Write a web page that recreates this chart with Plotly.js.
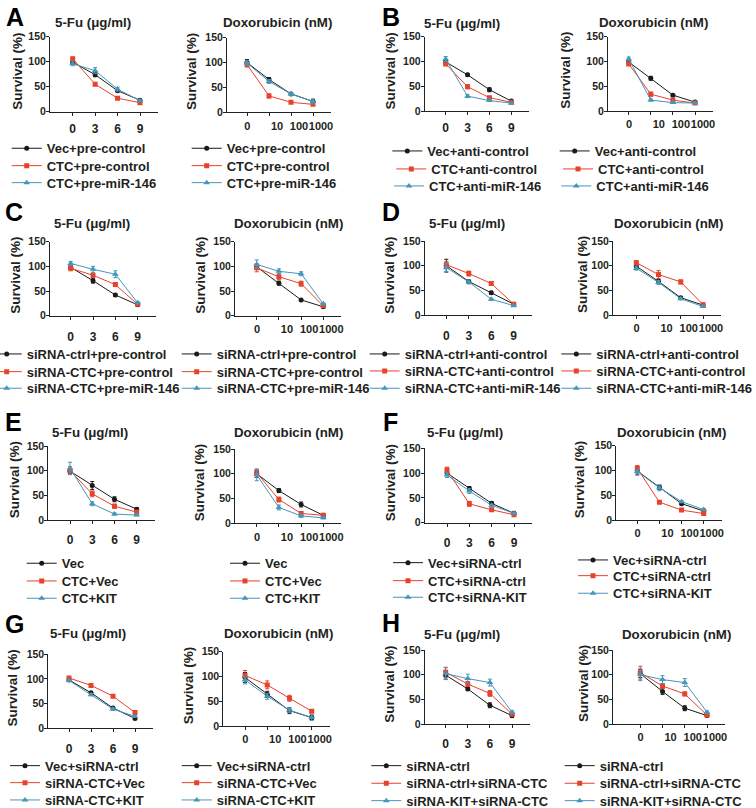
<!DOCTYPE html>
<html><head><meta charset="utf-8">
<script src="https://cdn.plot.ly/plotly-3.0.1.min.js"></script>
<style>html,body{margin:0;padding:0;background:#fff}#chart{width:756px;height:808px}</style>
</head><body><div id="chart"></div>
<script>
// ---------- data ----------
const fuDoses = ['0', '3', '6', '9'];
const doxDoses = ['0', '10', '100', '1000'];
const panelLetters = ['A', 'B', 'C', 'D', 'E', 'F', 'G', 'H'];
const drugTitles = ['5-Fu (μg/ml)', 'Doxorubicin (nM)'];
const yAxisTitle = 'Survival (%)';

const groupsA = ['Vec+pre-control', 'CTC+pre-control', 'CTC+pre-miR-146'];
const groupsB = ['Vec+anti-control', 'CTC+anti-control', 'CTC+anti-miR-146'];
const groupsC = ['siRNA-ctrl+pre-control', 'siRNA-CTC+pre-control', 'siRNA-CTC+pre-miR-146'];
const groupsD = ['siRNA-ctrl+anti-control', 'siRNA-CTC+anti-control', 'siRNA-CTC+anti-miR-146'];
const groupsE = ['Vec', 'CTC+Vec', 'CTC+KIT'];
const groupsF = ['Vec+siRNA-ctrl', 'CTC+siRNA-ctrl', 'CTC+siRNA-KIT'];
const groupsG = ['Vec+siRNA-ctrl', 'siRNA-CTC+Vec', 'siRNA-CTC+KIT'];
const groupsH = ['siRNA-ctrl', 'siRNA-ctrl+siRNA-CTC', 'siRNA-KIT+siRNA-CTC'];

const A_fu_mean = [[99, 74, 42, 23], [106, 55, 27, 18], [96, 82, 45, 22]];
const A_fu_sd = [[4, 4, 2, 2], [3, 3, 2, 1.5], [4, 6, 4, 2]];
const A_dox_mean = [[100, 66, 37, 22], [96, 33, 20, 16], [99, 62, 37, 22]];
const A_dox_sd = [[6, 4, 3, 2], [5, 4, 2, 1.5], [5, 4, 3, 5]];

const B_fu_mean = [[99, 73, 43, 20], [95, 49, 27, 17.5], [105, 30, 21, 16]];
const B_fu_sd = [[4, 3, 4, 2], [3, 4, 2, 2], [5, 3, 1.5, 1.5]];
const B_dox_mean = [[99, 66, 32, 18], [95, 34, 22, 16], [105, 22, 17, 16]];
const B_dox_sd = [[4, 4, 2, 2], [3, 4, 2, 1.5], [4, 2, 1.5, 1.5]];

const C_fu_mean = [[98, 71, 42, 22], [96, 82, 63, 23], [106, 94, 84, 26]];
const C_fu_sd = [[4, 5, 3, 2], [5, 4, 4, 2], [4, 6, 7, 2]];
const C_dox_mean = [[99, 66, 32, 18], [97, 79, 65, 20], [104, 90, 85, 24]];
const C_dox_sd = [[5, 4, 1.5, 2], [8, 6, 5, 2], [9, 5, 4, 2]];

const D_fu_mean = [[100, 68, 45, 22], [102, 84, 64, 22], [96, 67, 32, 19]];
const D_fu_sd = [[13, 3, 3, 2], [6, 5, 4, 2], [8, 4, 2, 1.5]];
const D_dox_mean = [[99, 68, 35, 20], [106, 82, 67, 21], [95, 66, 33, 17]];
const D_dox_sd = [[6, 4, 2, 2], [4, 8, 4, 2], [4, 4, 2, 1.5]];

const E_fu_mean = [[99, 70, 42, 22], [100, 53, 28, 16], [105, 33, 12, 10]];
const E_fu_sd = [[5, 8, 5, 3], [8, 6, 4, 3], [12, 4, 2, 1.5]];
const E_dox_mean = [[100, 66, 38, 16], [102, 48, 20, 16], [98, 32, 15, 11]];
const E_dox_sd = [[7, 4, 5, 2], [6, 5, 3, 2], [12, 5, 3, 2]];

const F_fu_mean = [[100, 69, 39, 19], [106, 38, 26, 16], [96, 64, 35, 19]];
const F_fu_sd = [[5, 4, 3, 1.5], [6, 5, 3, 1.5], [5, 5, 2, 1.5]];
const F_dox_mean = [[99, 66, 33, 18], [104, 36, 20, 13], [98, 65, 37, 21]];
const F_dox_sd = [[8, 4, 2, 2], [6, 3, 2, 2], [5, 6, 2, 2]];

const G_fu_mean = [[98, 72, 41, 20], [102, 87, 65, 32], [97, 68, 39, 24]];
const G_fu_sd = [[2, 2, 2, 1.5], [2, 1.5, 1.5, 2], [2, 2, 2, 1.5]];
const G_dox_mean = [[98, 64, 31, 17], [102, 83, 56, 30], [93, 60, 32, 17]];
const G_dox_sd = [[10, 6, 6, 4], [10, 8, 6, 3], [8, 6, 5, 6]];

const H_fu_mean = [[99, 71, 38, 17], [105, 81, 62, 20], [102, 92, 84, 24]];
const H_fu_sd = [[8, 3, 5, 4], [10, 5, 6, 2], [12, 9, 7, 3]];
const H_dox_mean = [[102, 66, 32, 17], [104, 77, 61, 18], [100, 90, 84, 24]];
const H_dox_sd = [[8, 6, 5, 2], [13, 5, 4, 2], [12, 8, 8, 2]];

// ---------- assembly ----------
const panelGroups = [groupsA, groupsB, groupsC, groupsD, groupsE, groupsF, groupsG, groupsH];
const panelMeans = [
  [A_fu_mean, A_dox_mean], [B_fu_mean, B_dox_mean], [C_fu_mean, C_dox_mean], [D_fu_mean, D_dox_mean],
  [E_fu_mean, E_dox_mean], [F_fu_mean, F_dox_mean], [G_fu_mean, G_dox_mean], [H_fu_mean, H_dox_mean]];
const panelSds = [
  [A_fu_sd, A_dox_sd], [B_fu_sd, B_dox_sd], [C_fu_sd, C_dox_sd], [D_fu_sd, D_dox_sd],
  [E_fu_sd, E_dox_sd], [F_fu_sd, F_dox_sd], [G_fu_sd, G_dox_sd], [H_fu_sd, H_dox_sd]];

// ---------- layout geometry (pixels) ----------
const W = 756, H = 808;
// [axisX, firstPoint, lastPoint, yTop(150), yBot(0), titleX, titleY, yTitleGap, xLabelGap]
const subGeom = [
  [50, 72.7, 140, 36.7, 111.7, 93, 22, 32.5, 15],
  [227, 247, 313, 37.7, 112.3, 277, 22, 35, 15],
  [424.7, 445.7, 511.3, 36.7, 111, 462, 23, 34, 15],
  [608, 628.7, 695, 36.7, 111, 653, 22, 42, 15],
  [50, 70.7, 137.7, 241.7, 315.7, 92, 223, 34, 19],
  [235, 256.7, 323.3, 241.7, 315.7, 288, 223, 34, 19],
  [424.7, 446.3, 513.7, 241, 315, 467, 223, 36, 19],
  [613, 636.3, 703, 241, 315, 668, 223, 31, 19],
  [48.3, 70, 136.7, 446, 520, 90, 432, 34, 18],
  [235, 256.7, 323.3, 449, 523.3, 288, 432, 36, 18],
  [424.7, 447, 514, 448.3, 522.7, 465, 432, 34, 18],
  [616.3, 637.3, 703.7, 445.7, 520, 671, 432, 36, 18],
  [48.3, 69, 135, 654.3, 728.3, 88, 633, 36, 18],
  [223.3, 245, 311.7, 651.7, 726, 278, 633, 34, 18],
  [424.7, 445.7, 512, 650, 724, 462, 634, 36, 18],
  [613, 640.3, 707, 650, 724, 676, 634, 30, 18]
];
// legend text start x per row, and row centre y
const legTextX = [
  [46.7, 46.7, 46.7], [226.7, 226.7, 226.7], [427.3, 431.3, 429], [594.7, 598, 596.3],
  [26.7, 26.7, 26.7], [216.7, 216.7, 216.7], [404.7, 404.7, 404.7], [596.3, 596.3, 596.3],
  [61.7, 61.7, 61.7], [265, 265, 265], [428, 428, 428], [613, 613, 613],
  [45, 45, 45], [216.7, 216.7, 216.7], [406.3, 406.3, 406.3], [599.7, 599.7, 599.7]
];
const legRowY = [
  [148.3, 165.7, 182.7], [148.3, 165.7, 182.7], [151, 169, 186], [151, 169, 186],
  [354, 371.7, 388.3], [354, 371.7, 388.3], [354, 371, 388.3], [354, 371, 388.3],
  [563.3, 581, 598.3], [563.3, 581, 598.3], [562.7, 580.7, 597.3], [560, 575.7, 593.3],
  [765.7, 782.7, 800], [765.7, 782.7, 800], [765.7, 783.3, 800.7], [765.7, 783.3, 800.7]
];
// [left x, y, anchor]
const letterPos = [[4, 1, 'top'], [380, 1, 'top'], [3, 212, 'middle'], [380, 212, 'middle'],
                   [3, 422, 'middle'], [381, 422, 'middle'], [3, 624, 'middle'], [380, 623, 'middle']];

const FONT = '"Liberation Sans", Arial, Helvetica, sans-serif';
const TXT = '#231f20';
const seriesColor = ['#1a1a1a', '#e8412c', '#4596b8'];
const seriesSymbol = ['circle', 'square', 'triangle-up'];
const seriesSize = [5, 5, 6];
// doxorubicin labels sit ~8px right of their tick marks, except the "0" label
const doxShift = 8;
const PAD = '\u00a0\u00a0\u00a0\u00a0\u00a0';

const traces = [];
const layout = {
  width: W, height: H,
  margin: {l: 0, r: 0, t: 0, b: 0, autoexpand: false},
  paper_bgcolor: '#fff', plot_bgcolor: 'rgba(0,0,0,0)',
  font: {family: FONT, color: TXT},
  showlegend: true,
  annotations: []
};

let legCount = 0;
for (let p = 0; p < 8; p++) {
  layout.annotations.push({
    text: panelLetters[p], xref: 'paper', yref: 'paper', showarrow: false,
    x: letterPos[p][0] / W, y: 1 - letterPos[p][1] / H, xanchor: 'left', yanchor: letterPos[p][2],
    font: {size: 25, weight: 'bold', color: '#000', family: FONT}
  });
  for (let d = 0; d < 2; d++) {
    const k = p * 2 + d;
    const n = k === 0 ? '' : String(k + 1);
    const g = subGeom[k];
    const s = (g[2] - g[1]) / 3;
    const xEnd = g[2] + 18;
    const isDox = d === 1;
    layout['xaxis' + n] = {
      domain: [g[0] / W, xEnd / W], range: [(g[0] - g[1]) / s, (xEnd - g[1]) / s],
      anchor: 'y' + n, showline: true, linecolor: '#222', linewidth: 1,
      ticks: 'outside', ticklen: 3, tickwidth: 1, tickcolor: '#222',
      tickvals: [0, 1, 2, 3],
      ticktext: isDox ? doxDoses.map((t, i) => i === 0 ? t + PAD : t) : fuDoses,
      tickangle: 0,
      ticklabelshift: isDox ? doxShift : 0,
      tickfont: {size: isDox ? 11 : 12, weight: 'bold', color: TXT, family: FONT},
      ticklabelstandoff: g[8] - (isDox ? 11.5 : 12),
      showgrid: false, zeroline: false, fixedrange: true
    };
    layout['yaxis' + n] = {
      domain: [1 - g[4] / H, 1 - g[3] / H], range: [0, 150],
      anchor: 'x' + n, showline: true, linecolor: '#222', linewidth: 1,
      ticks: 'outside', ticklen: 3, tickwidth: 1, tickcolor: '#222',
      tickvals: [0, 50, 100, 150],
      tickfont: {size: 10.5, weight: 'bold', color: TXT, family: FONT},
      ticklabelstandoff: -2,
      showgrid: false, zeroline: false, fixedrange: true
    };
    layout.annotations.push({
      text: yAxisTitle, xref: 'paper', yref: 'paper', showarrow: false, textangle: -90,
      x: (g[0] - g[7]) / W, y: 1 - ((g[3] + g[4]) / 2 - 3) / H, xanchor: 'center', yanchor: 'middle',
      font: {size: 13.5, weight: 'bold', color: TXT, family: FONT}
    });
    layout.annotations.push({
      text: drugTitles[d], xref: 'paper', yref: 'paper', showarrow: false,
      x: g[5] / W, y: 1 - g[6] / H, xanchor: 'center', yanchor: 'middle',
      font: {size: 13.3, weight: 'bold', color: TXT, family: FONT}
    });
    for (let si = 0; si < 3; si++) {
      legCount++;
      const legId = legCount === 1 ? 'legend' : 'legend' + legCount;
      layout[legId] = {
        x: (legTextX[k][si] - 40) / W, y: 1 - legRowY[k][si] / H,
        xanchor: 'left', yanchor: 'middle', xref: 'paper', yref: 'paper',
        bgcolor: 'rgba(0,0,0,0)', borderwidth: 0,
        font: {size: 13, weight: 'bold', color: TXT, family: FONT}
      };
      traces.push({
        type: 'scatter', mode: 'lines+markers',
        x: [0, 1, 2, 3], y: panelMeans[p][d][si],
        error_y: {type: 'data', array: panelSds[p][d][si], visible: true,
                  color: seriesColor[si], thickness: 1, width: 2},
        line: {color: seriesColor[si], width: 1},
        marker: {color: seriesColor[si], symbol: seriesSymbol[si], size: seriesSize[si]},
        name: panelGroups[p][si],
        xaxis: 'x' + n, yaxis: 'y' + n,
        legend: legId, showlegend: true,
        hoverinfo: 'name+y'
      });
    }
  }
}

Plotly.newPlot('chart', traces, layout, {displayModeBar: false, staticPlot: true});
</script>
</body></html>
